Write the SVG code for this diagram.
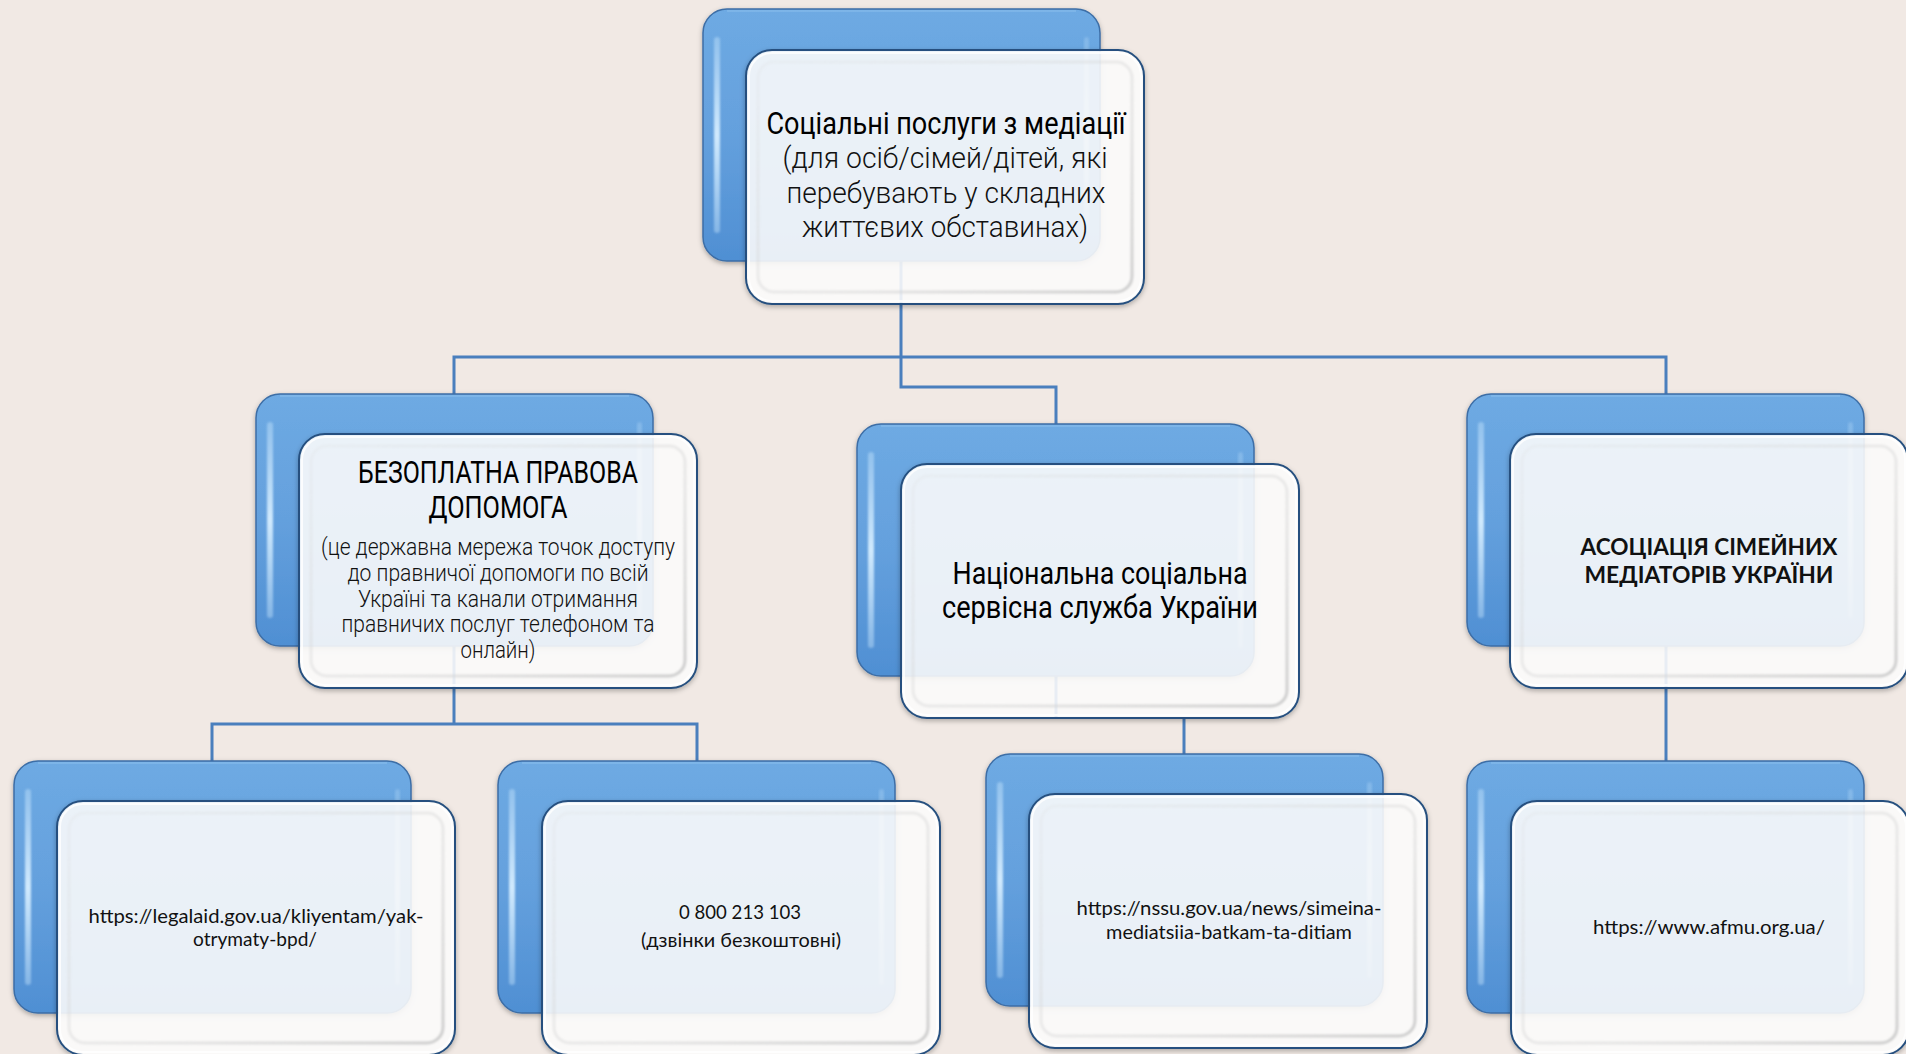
<svg xmlns="http://www.w3.org/2000/svg" xmlns:xlink="http://www.w3.org/1999/xlink" width="1906" height="1054" viewBox="0 0 1906 1054">
<style>
.conn{fill:none;stroke:#4a7fbd;stroke-width:3;}
.t-title{font-family:Roboto,"Liberation Sans",sans-serif;font-size:31px;fill:#000;text-anchor:middle;}
.t-light{font-family:Roboto,"Liberation Sans",sans-serif;font-weight:300;fill:#111;text-anchor:middle;}
.t-cal{font-family:Lato,"Open Sans","Liberation Sans",sans-serif;font-size:19px;fill:#111;text-anchor:middle;}
.t-calb{font-family:Lato,"Open Sans","Liberation Sans",sans-serif;font-size:22px;font-weight:bold;fill:#111;text-anchor:middle;}
</style>
<defs>
<linearGradient id="gBack" x1="0" y1="0" x2="0" y2="1">
<stop offset="0" stop-color="#6eaae3"/>
<stop offset="0.5" stop-color="#64a0dd"/>
<stop offset="1" stop-color="#4f8fd3"/>
</linearGradient>
<linearGradient id="gHi" x1="0" y1="0" x2="0" y2="1">
<stop offset="0" stop-color="#cde9ff" stop-opacity="0.4"/>
<stop offset="0.5" stop-color="#d6eeff" stop-opacity="0.95"/>
<stop offset="1" stop-color="#cde9ff" stop-opacity="0.4"/>
</linearGradient>
<linearGradient id="gInner" x1="0" y1="0" x2="1" y2="1">
<stop offset="0" stop-color="#d4d4d4" stop-opacity="0.15"/>
<stop offset="0.6" stop-color="#d4d4d4" stop-opacity="0.5"/>
<stop offset="1" stop-color="#c8c8c8" stop-opacity="0.9"/>
</linearGradient>
<filter id="fShadow" x="-10%" y="-10%" width="120%" height="125%">
<feDropShadow dx="0" dy="2" stdDeviation="2.5" flood-color="#000" flood-opacity="0.3"/>
</filter>
<filter id="fBlur" x="-20%" y="-20%" width="140%" height="140%">
<feGaussianBlur stdDeviation="1.2"/>
</filter>
<g id="backShape">
<rect x="0" y="0" width="397" height="252" rx="24" fill="url(#gBack)" stroke="#3d6ea6" stroke-width="1.5" filter="url(#fShadow)"/>
<rect x="11" y="28" width="6" height="196" rx="3" fill="url(#gHi)" filter="url(#fBlur)"/>
<rect x="381" y="28" width="5" height="196" rx="2.5" fill="url(#gHi)" opacity="0.6" filter="url(#fBlur)"/>
<path d="M24 2 H373" stroke="#8cc0ee" stroke-width="2" opacity="0.5"/>
</g>
<g id="frontShape">
<rect x="0" y="0" width="398" height="254" rx="26" fill="#ffffff" fill-opacity="0.86" stroke="#25507f" stroke-width="2" filter="url(#fShadow)"/>
<rect x="12" y="12" width="374" height="230" rx="16" fill="none" stroke="url(#gInner)" stroke-width="3" filter="url(#fBlur)"/>
<rect x="3" y="3" width="392" height="248" rx="23" fill="none" stroke="#ffffff" stroke-width="2" opacity="0.8"/>
</g>
</defs>
<rect x="0" y="0" width="1906" height="1054" fill="#f1e9e4"/>
<g id="connectors">
<path class="conn" d="M901 260 V387 H1056 V424"/>
<path class="conn" d="M454 394 V357 H1666 V394"/>
<path class="conn" d="M454 645 V724"/>
<path class="conn" d="M212 761 V724 H697 V761"/>
<path class="conn" d="M1056 675 V718"/>
<path class="conn" d="M1184 718 V754"/>
<path class="conn" d="M1666 646 V761"/>
</g>
<g id="node-root">
<use xlink:href="#backShape" x="703" y="9"/>
<use xlink:href="#frontShape" x="746" y="50"/>
<text class="t-title" x="946" y="134" textLength="359" lengthAdjust="spacingAndGlyphs">Соціальні послуги з медіації</text>
<text class="t-light" font-size="29" x="945" y="168" textLength="325" lengthAdjust="spacingAndGlyphs">(для осіб/сімей/дітей, які</text>
<text class="t-light" font-size="29" x="946" y="203" textLength="319" lengthAdjust="spacingAndGlyphs">перебувають у складних</text>
<text class="t-light" font-size="29" x="945" y="237" textLength="286" lengthAdjust="spacingAndGlyphs">життєвих обставинах)</text>
</g>
<g id="node-bpd">
<use xlink:href="#backShape" x="256" y="394"/>
<use xlink:href="#frontShape" x="299" y="434"/>
<text class="t-title" font-size="26" x="498" y="483" textLength="280" lengthAdjust="spacingAndGlyphs">БЕЗОПЛАТНА ПРАВОВА</text>
<text class="t-title" font-size="26" x="498" y="518" textLength="139" lengthAdjust="spacingAndGlyphs">ДОПОМОГА</text>
<text class="t-light" font-size="23" x="498" y="555" textLength="354" lengthAdjust="spacingAndGlyphs">(це державна мережа точок доступу</text>
<text class="t-light" font-size="23" x="498" y="581" textLength="301" lengthAdjust="spacingAndGlyphs">до правничої допомоги по всій</text>
<text class="t-light" font-size="23" x="498" y="607" textLength="280" lengthAdjust="spacingAndGlyphs">Україні та канали отримання</text>
<text class="t-light" font-size="23" x="498" y="632" textLength="313" lengthAdjust="spacingAndGlyphs">правничих послуг телефоном та</text>
<text class="t-light" font-size="23" x="498" y="658" textLength="75" lengthAdjust="spacingAndGlyphs">онлайн)</text>
</g>
<g id="node-nssu">
<use xlink:href="#backShape" x="857" y="424"/>
<use xlink:href="#frontShape" x="901" y="464"/>
<text class="t-title" font-size="30" x="1100" y="584" textLength="295" lengthAdjust="spacingAndGlyphs">Національна соціальна</text>
<text class="t-title" font-size="30" x="1100" y="618" textLength="316" lengthAdjust="spacingAndGlyphs">сервісна служба України</text>
</g>
<g id="node-asmu">
<use xlink:href="#backShape" x="1467" y="394"/>
<use xlink:href="#frontShape" x="1510" y="434"/>
<text class="t-calb" x="1709" y="555" textLength="257" lengthAdjust="spacingAndGlyphs">АСОЦІАЦІЯ СІМЕЙНИХ</text>
<text class="t-calb" x="1709" y="583" textLength="249" lengthAdjust="spacingAndGlyphs">МЕДІАТОРІВ УКРАЇНИ</text>
</g>
<g id="node-legalaid">
<use xlink:href="#backShape" x="14" y="761"/>
<use xlink:href="#frontShape" x="57" y="801"/>
<text class="t-cal" x="256" y="923" textLength="335" lengthAdjust="spacingAndGlyphs">https://legalaid.gov.ua/kliyentam/yak-</text>
<text class="t-cal" x="255" y="946" textLength="124" lengthAdjust="spacingAndGlyphs">otrymaty-bpd/</text>
</g>
<g id="node-phone">
<use xlink:href="#backShape" x="498" y="761"/>
<use xlink:href="#frontShape" x="542" y="801"/>
<text class="t-cal" x="740" y="919" textLength="122" lengthAdjust="spacingAndGlyphs">0 800 213 103</text>
<text class="t-cal" x="741" y="947" textLength="200" lengthAdjust="spacingAndGlyphs">(дзвінки безкоштовні)</text>
</g>
<g id="node-nssu-link">
<use xlink:href="#backShape" x="986" y="754"/>
<use xlink:href="#frontShape" x="1029" y="794"/>
<text class="t-cal" x="1229" y="915" textLength="305" lengthAdjust="spacingAndGlyphs">https://nssu.gov.ua/news/simeina-</text>
<text class="t-cal" x="1229" y="939" textLength="246" lengthAdjust="spacingAndGlyphs">mediatsiia-batkam-ta-ditiam</text>
</g>
<g id="node-afmu">
<use xlink:href="#backShape" x="1467" y="761"/>
<use xlink:href="#frontShape" x="1511" y="801"/>
<text class="t-cal" x="1709" y="934" textLength="232" lengthAdjust="spacingAndGlyphs">https://www.afmu.org.ua/</text>
</g>
</svg>
